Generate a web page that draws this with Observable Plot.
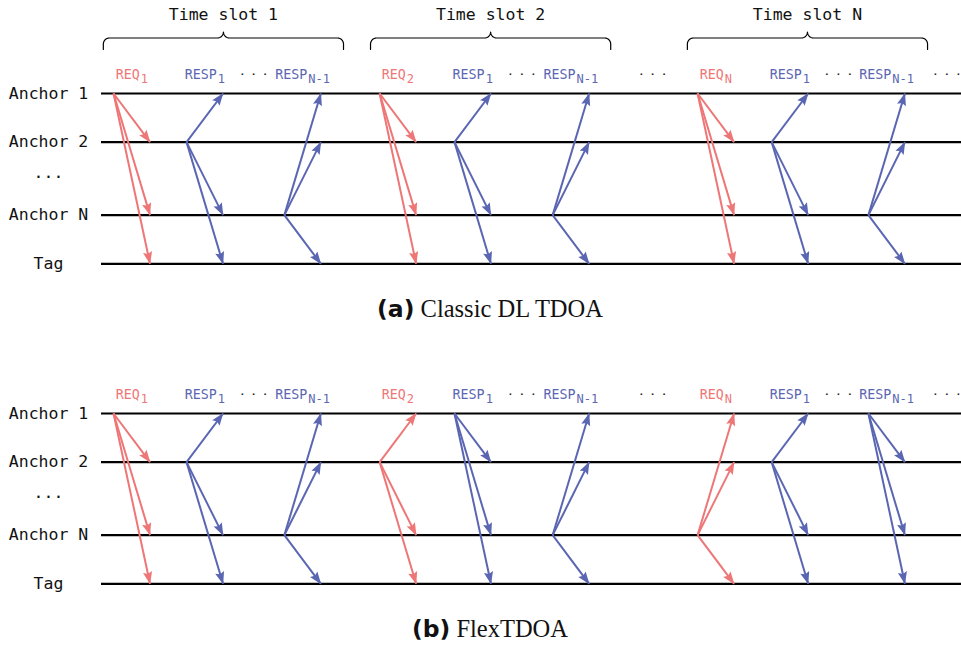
<!DOCTYPE html>
<html><head><meta charset="utf-8">
<script src="https://cdn.jsdelivr.net/npm/d3@7"></script>
<script src="https://cdn.jsdelivr.net/npm/@observablehq/plot@0.6"></script>
<style>
body{margin:0;background:#fff;overflow:hidden}
#wrap{position:relative;width:961px;height:649px}
.panel{position:absolute;left:0;width:961px}
.cap{position:absolute;left:0;width:980px;text-align:center;font-family:"Liberation Serif";font-size:24.5px;line-height:30px;color:#111;white-space:nowrap}
.cap b{font-family:"DejaVu Sans";font-weight:bold;font-size:23.5px}
</style></head><body>
<div id="wrap">
 <div class="panel" id="pa" style="top:0"></div>
 <div class="cap" style="top:294px"><b>(a)</b> Classic DL TDOA</div>
 <div class="panel" id="pb" style="top:320px"></div>
 <div class="cap" style="top:614px"><b>(b)</b> FlexTDOA</div>
</div>
<script>
// ---- data ----
const lanes = ["Anchor 1", "Anchor 2", "Anchor N", "Tag"];
const laneLevel = [0, 1, 2.5, 3.5];
const elidedLabel = "...";
const elidedLevel = 1.62;

const slotNames = ["Time slot 1", "Time slot 2", "Time slot N"];
const slotStart = [0.05, 7.37, 16.05];
const slotEnd = [6.63, 13.95, 22.63];

const msgKind = ["REQ", "RESP", "RESP", "REQ", "RESP", "RESP", "REQ", "RESP", "RESP"];
const msgSub = ["1", "1", "N-1", "2", "1", "N-1", "N", "1", "N-1"];
const msgTime = [0.33, 2.33, 5.01, 7.62, 9.67, 12.36, 16.33, 18.36, 21.01];
const flightTime = 1;
// sender of each message in (a) classic DL-TDOA and (b) FlexTDOA
const senderA = ["Anchor 1", "Anchor 2", "Anchor N", "Anchor 1", "Anchor 2", "Anchor N", "Anchor 1", "Anchor 2", "Anchor N"];
const senderB = ["Anchor 1", "Anchor 2", "Anchor N", "Anchor 2", "Anchor 1", "Anchor N", "Anchor N", "Anchor 2", "Anchor 1"];
const gapDotTimes = [15.1, 23.16];

// ---- layout / style ----
const W = 961, H = 290;
const X0 = 101, X1 = 961, Y0 = 93, Y1 = 263.3;
const xMax = 23.56, yMax = 3.5;
const kx = (X1 - X0) / xMax, ky = (Y1 - Y0) / yMax;
const RED = "#EE7676", BLUE = "#5A66B2";
const MONO = "DejaVu Sans Mono";
const FS_MAIN = 13.3, FS_SUB = 12, GAP = 1;

function level(name) { return laneLevel[lanes.indexOf(name)]; }

function stealth(color) {
  const ns = "http://www.w3.org/2000/svg";
  const m = document.createElementNS(ns, "marker");
  m.setAttribute("viewBox", "-13 -5 14 10");
  m.setAttribute("markerWidth", 14);
  m.setAttribute("markerHeight", 10);
  m.setAttribute("markerUnits", "userSpaceOnUse");
  m.setAttribute("orient", "auto");
  m.setAttribute("refX", 0);
  m.setAttribute("refY", 0);
  const p = document.createElementNS(ns, "path");
  p.setAttribute("d", "M0.5,0L-12,-4.6L-10,0L-12,4.6Z");
  p.setAttribute("fill", color);
  p.setAttribute("stroke", "none");
  m.appendChild(p);
  return m;
}

function bracePoints(x0, x1, slot) {
  const r = 6, yFoot = -44, yBar = -55.5;
  const A = x0 * kx, B = x1 * kx, C = (A + B) / 2;
  const pts = [];
  const push = (px, py) => pts.push({slot, x: px / kx, y: py / ky});
  const arc = (cx, cy, a0, a1) => { for (let k = 0; k <= 8; k++) { const a = a0 + (a1 - a0) * k / 8; push(cx + r * Math.cos(a), cy + r * Math.sin(a)); } };
  push(A, yFoot);
  arc(A + r, yBar + r, Math.PI, 1.5 * Math.PI);
  arc(C - r, yBar - r, 0.5 * Math.PI, 0);
  arc(C + r, yBar - r, Math.PI, 0.5 * Math.PI);
  arc(B - r, yBar + r, 1.5 * Math.PI, 2 * Math.PI);
  push(B, yFoot);
  return pts;
}

function panel(senders, withBraces) {
  const links = [];
  msgTime.forEach((t, i) => {
    const s = senders[i];
    lanes.forEach(l => {
      if (l !== s) links.push({x1: t, y1: level(s), x2: t + flightTime, y2: level(l), kind: msgKind[i]});
    });
  });
  const labels = msgTime.map((t, i) => {
    const mw = msgKind[i].length * 0.602 * FS_MAIN, sw = msgSub[i].length * 0.602 * FS_SUB;
    const left = t + flightTime / 2 - (mw + GAP + sw) / 2 / kx;
    return {main: msgKind[i], sub: msgSub[i], xm: left, xs: left + (mw + GAP) / kx, kind: msgKind[i]};
  });
  const dots = [];
  for (let s = 0; s < 3; s++) dots.push((msgTime[3 * s + 1] + flightTime + msgTime[3 * s + 2]) / 2);
  gapDotTimes.forEach(t => dots.push(t));
  const laneRows = lanes.map((n, i) => ({n, lv: laneLevel[i]})).concat([{n: elidedLabel, lv: elidedLevel}]);

  const marks = [
    Plot.ruleY(laneLevel, {stroke: "#000", strokeWidth: 2.2}),
    Plot.text(laneRows, {x: () => 0, y: "lv", text: "n", dx: -53, textAnchor: "middle", fontFamily: MONO, fontSize: 16.5, fill: "#111"}),
    Plot.link(links.filter(d => d.kind === "REQ"), {x1: "x1", y1: "y1", x2: "x2", y2: "y2", stroke: RED, strokeWidth: 2, markerEnd: stealth}),
    Plot.link(links.filter(d => d.kind !== "REQ"), {x1: "x1", y1: "y1", x2: "x2", y2: "y2", stroke: BLUE, strokeWidth: 2, markerEnd: stealth}),
    Plot.text(labels.filter(d => d.kind === "REQ"), {x: "xm", y: () => 0, text: "main", textAnchor: "start", dy: -18.3, fontFamily: MONO, fontSize: FS_MAIN, fill: RED}),
    Plot.text(labels.filter(d => d.kind === "REQ"), {x: "xs", y: () => 0, text: "sub", textAnchor: "start", dy: -14.5, fontFamily: MONO, fontSize: FS_SUB, fill: RED}),
    Plot.text(labels.filter(d => d.kind !== "REQ"), {x: "xm", y: () => 0, text: "main", textAnchor: "start", dy: -18.3, fontFamily: MONO, fontSize: FS_MAIN, fill: BLUE}),
    Plot.text(labels.filter(d => d.kind !== "REQ"), {x: "xs", y: () => 0, text: "sub", textAnchor: "start", dy: -14.5, fontFamily: MONO, fontSize: FS_SUB, fill: BLUE}),
    Plot.text(dots, {x: d => d, y: () => 0, text: () => "· · ·", dy: -20, textAnchor: "middle", fontFamily: MONO, fontWeight: "bold", fontSize: 9.5, fill: "#222"})
  ];
  if (withBraces) {
    const braces = slotNames.flatMap((n, i) => bracePoints(slotStart[i], slotEnd[i], n));
    marks.push(Plot.line(braces, {x: "x", y: "y", z: "slot", stroke: "#000", strokeWidth: 1.2}));
    marks.push(Plot.text(slotNames.map((n, i) => ({n, x: (slotStart[i] + slotEnd[i]) / 2})),
      {x: "x", y: () => 0, text: "n", dy: -78.3, textAnchor: "middle", fontFamily: MONO, fontSize: 16.5, fill: "#111"}));
  }
  return Plot.plot({
    width: W, height: H,
    marginLeft: X0, marginRight: 0, marginTop: Y0, marginBottom: H - Y1,
    x: {domain: [0, xMax], range: [X0, X1], axis: null},
    y: {domain: [0, yMax], range: [Y0, Y1], axis: null},
    style: {background: "#fff", overflow: "visible"},
    marks
  });
}

document.getElementById("pa").appendChild(panel(senderA, true));
document.getElementById("pb").appendChild(panel(senderB, false));
</script>
</body></html>
